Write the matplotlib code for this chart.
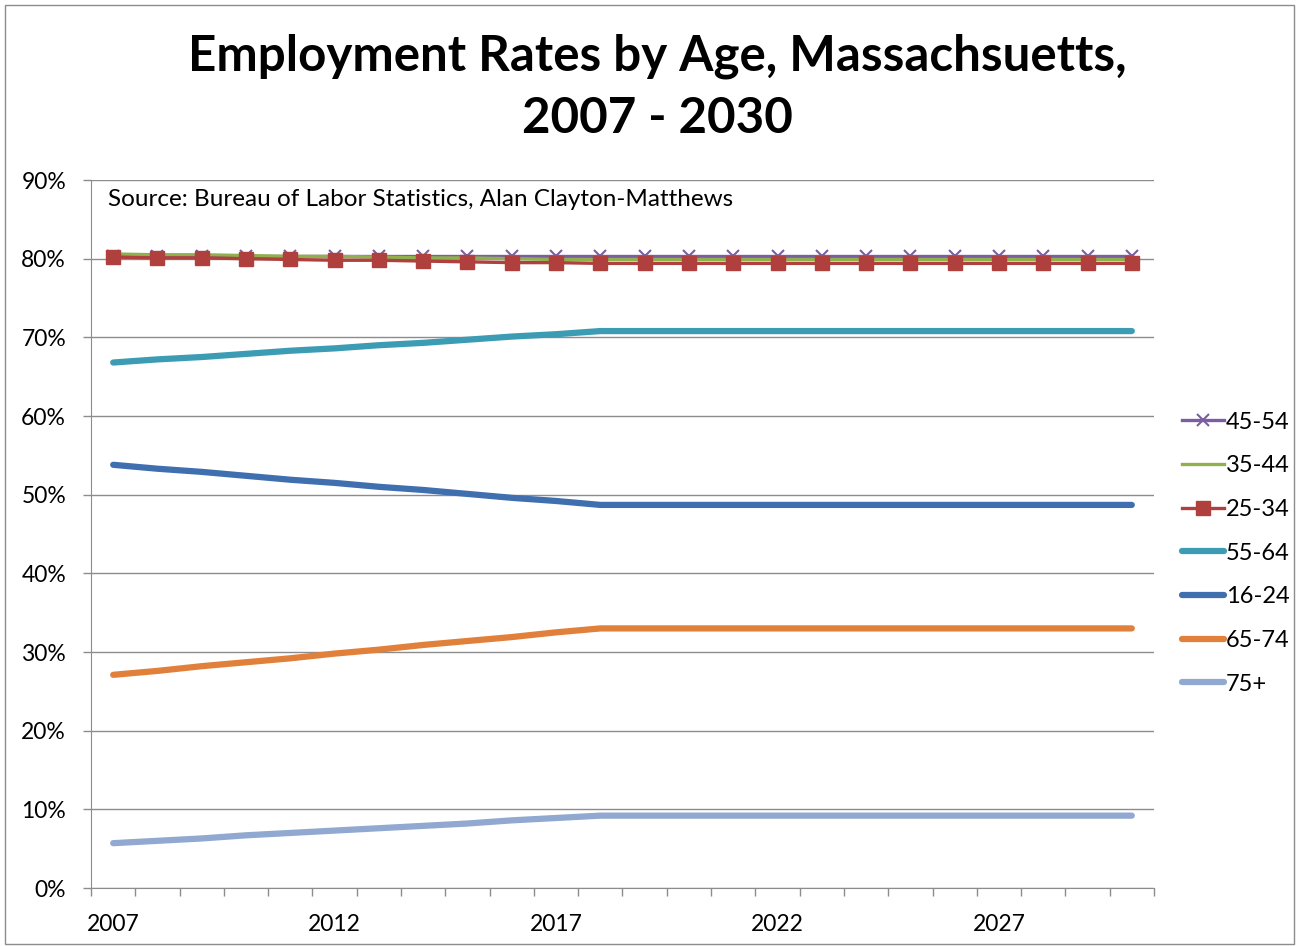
import numpy as np
from matplotlib import pyplot as plt
from matplotlib.patches import Rectangle

plt.rcParams['font.family'] = ['Lato', 'DejaVu Sans']

years = list(range(2007, 2031))
tick_years = ['2007', '2012', '2017', '2022', '2027']

# employment rates in percent
r45_54 = [80.4, 80.4, 80.4, 80.4, 80.4, 80.4, 80.4, 80.4, 80.4, 80.4, 80.4, 80.4,
          80.4, 80.4, 80.4, 80.4, 80.4, 80.4, 80.4, 80.4, 80.4, 80.4, 80.4, 80.4]
r35_44 = [80.6, 80.5, 80.5, 80.4, 80.3, 80.3, 80.2, 80.1, 80.1, 80.0, 79.9, 79.9,
          79.9, 79.9, 79.9, 79.9, 79.9, 79.9, 79.9, 79.9, 79.9, 79.9, 79.9, 79.9]
r25_34 = [80.2, 80.1, 80.1, 80.0, 79.9, 79.8, 79.8, 79.7, 79.6, 79.5, 79.5, 79.4,
          79.4, 79.4, 79.4, 79.4, 79.4, 79.4, 79.4, 79.4, 79.4, 79.4, 79.4, 79.4]
r55_64 = [66.8, 67.2, 67.5, 67.9, 68.3, 68.6, 69.0, 69.3, 69.7, 70.1, 70.4, 70.8,
          70.8, 70.8, 70.8, 70.8, 70.8, 70.8, 70.8, 70.8, 70.8, 70.8, 70.8, 70.8]
r16_24 = [53.8, 53.3, 52.9, 52.4, 51.9, 51.5, 51.0, 50.6, 50.1, 49.6, 49.2, 48.7,
          48.7, 48.7, 48.7, 48.7, 48.7, 48.7, 48.7, 48.7, 48.7, 48.7, 48.7, 48.7]
r65_74 = [27.1, 27.6, 28.2, 28.7, 29.2, 29.8, 30.3, 30.9, 31.4, 31.9, 32.5, 33.0,
          33.0, 33.0, 33.0, 33.0, 33.0, 33.0, 33.0, 33.0, 33.0, 33.0, 33.0, 33.0]
r75 = [5.7, 6.0, 6.3, 6.7, 7.0, 7.3, 7.6, 7.9, 8.2, 8.6, 8.9, 9.2,
       9.2, 9.2, 9.2, 9.2, 9.2, 9.2, 9.2, 9.2, 9.2, 9.2, 9.2, 9.2]

x = np.arange(len(years))

fig = plt.figure(figsize=(12.97, 9.46), dpi=100)
ax = fig.add_axes([0.0702, 0.0613, 0.8195, 0.7484])

ax.plot(x, r45_54, color='#7B5EA0', lw=2.4, marker='x', ms=9, mew=1.5, label='45-54', zorder=3)
ax.plot(x, r35_44, color='#8FB04C', lw=2.4, label='35-44', zorder=3)
ax.plot(x, r25_34, color='#B0403E', lw=2.4, marker='s', ms=10, label='25-34', zorder=4)
ax.plot(x, r55_64, color='#3C9CB4', lw=4.5, solid_capstyle='round', label='55-64')
ax.plot(x, r16_24, color='#3F6FAE', lw=4.5, solid_capstyle='round', label='16-24')
ax.plot(x, r65_74, color='#E0803A', lw=4.5, solid_capstyle='round', label='65-74')
ax.plot(x, r75, color='#91A8D0', lw=4.5, solid_capstyle='round', label='75+')

ax.set_xlim(-0.5, len(years) - 0.5)
ax.set_ylim(0, 90)
ax.set_yticks(np.arange(0, 91, 10))
ax.set_yticklabels([f'{v}%' for v in range(0, 91, 10)], fontsize=16.5)
ax.yaxis.grid(True, color='#8C8C8C', lw=1)
ax.set_axisbelow(True)

ax.set_xticks(x[::5])
ax.set_xticklabels(tick_years, fontsize=16.5)
ax.set_xticks(np.arange(-0.5, len(years)), minor=True)
ax.tick_params(axis='x', which='major', length=0, pad=19)
ax.tick_params(axis='x', which='minor', length=6, color='#8C8C8C', width=1)
ax.tick_params(axis='y', length=6, color='#8C8C8C', width=1, pad=12)

for s in ['top', 'right']:
    ax.spines[s].set_visible(False)
for s in ['left', 'bottom']:
    ax.spines[s].set_color('#8C8C8C')

ax.text(0.016, 0.988, 'Source: Bureau of Labor Statistics, Alan Clayton-Matthews',
        transform=ax.transAxes, fontsize=17.5, va='top', ha='left')

fig.text(0.507, 0.908, 'Employment Rates by Age, Massachsuetts,\n2007 - 2030',
         ha='center', va='center', fontsize=35.5, fontweight='bold', linespacing=1.45)

ax.legend(loc='center left', bbox_to_anchor=(1.0, 0.473), frameon=False, fontsize=17,
          handlelength=1.75, handletextpad=0.1, labelspacing=0.96, borderaxespad=0.8)

fig.patches.append(Rectangle((0.004, 0.002), 0.994, 0.993, transform=fig.transFigure,
                             fill=False, edgecolor='#8C8C8C', lw=1))

fig.savefig('out.png', dpi=100)
